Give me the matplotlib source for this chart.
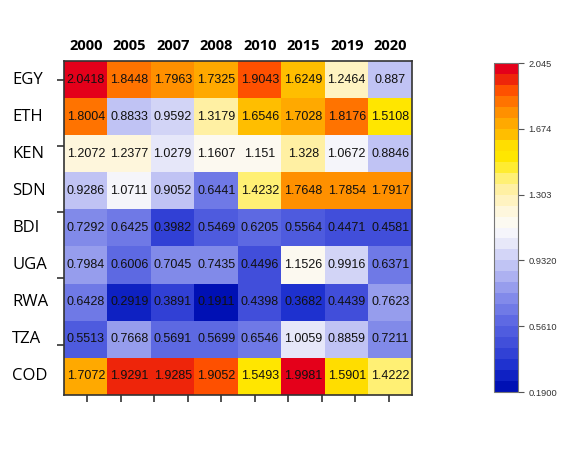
import numpy as np
import matplotlib
matplotlib.use("Agg")
import matplotlib.pyplot as plt
from matplotlib.colors import LinearSegmentedColormap, Normalize

# datos
years = ["2000", "2005", "2007", "2008", "2010", "2015", "2019", "2020"]
countries = ["EGY", "ETH", "KEN", "SDN", "BDI", "UGA", "RWA", "TZA", "COD"]

egy = [2.0418, 1.8448, 1.7963, 1.7325, 1.9043, 1.6249, 1.2464, 0.887]
eth = [1.8004, 0.8833, 0.9592, 1.3179, 1.6546, 1.7028, 1.8176, 1.5108]
ken = [1.2072, 1.2377, 1.0279, 1.1607, 1.151, 1.328, 1.0672, 0.8846]
sdn = [0.9286, 1.0711, 0.9052, 0.6441, 1.4232, 1.7648, 1.7854, 1.7917]
bdi = [0.7292, 0.6425, 0.3982, 0.5469, 0.6205, 0.5564, 0.4471, 0.4581]
uga = [0.7984, 0.6006, 0.7045, 0.7435, 0.4496, 1.1526, 0.9916, 0.6371]
rwa = [0.6428, 0.2919, 0.3891, 0.1911, 0.4398, 0.3682, 0.4439, 0.7623]
tza = [0.5513, 0.7668, 0.5691, 0.5699, 0.6546, 1.0059, 0.8859, 0.7211]
cod = [1.7072, 1.9291, 1.9285, 1.9052, 1.5493, 1.9981, 1.5901, 1.4222]

cbar_ticks = [0.1900, 0.5610, 0.9320, 1.303, 1.674, 2.045]
cbar_labels = ["0.1900", "0.5610", "0.9320", "1.303", "1.674", "2.045"]

vmin, vmax = 0.19, 2.045
datos = np.array([egy, eth, ken, sdn, bdi, uga, rwa, tza, cod])

# escala de colores azul - blanco - amarillo - rojo
anclas = [
    (0.00, "#0010b4"),
    (0.06, "#1a2ece"),
    (0.12, "#3a48d8"),
    (0.20, "#5a66e2"),
    (0.28, "#848cea"),
    (0.36, "#b6baf3"),
    (0.42, "#d6d8f7"),
    (0.46, "#eeeefa"),
    (0.50, "#fbfbfb"),
    (0.56, "#fff6d8"),
    (0.62, "#fff0a4"),
    (0.67, "#fff060"),
    (0.71, "#ffe800"),
    (0.755, "#ffe200"),
    (0.78, "#ffc600"),
    (0.84, "#ffa200"),
    (0.89, "#ff7a00"),
    (0.93, "#ff5200"),
    (0.96, "#f02c08"),
    (1.00, "#e4001a"),
]
cmap = LinearSegmentedColormap.from_list("byr", anclas, N=30)
norm = Normalize(vmin=vmin, vmax=vmax)

W, H = 577, 468
fig = plt.figure(figsize=(W / 100, H / 100), dpi=100)

ax = fig.add_axes([64 / W, 1 - 395 / H, 348 / W, 334 / H])
ax.imshow(datos, cmap=cmap, norm=norm, aspect="auto", interpolation="nearest")

for i in range(len(countries)):
    for j in range(len(years)):
        ax.text(j, i, f"{datos[i, j]:g}", ha="center", va="center",
                fontsize=9, family="Liberation Sans", color="#111111")

# marcas decorativas (como en R)
xfr = np.linspace(0.066, 0.934, 10)
yfr = 0.057 + 0.198 * np.arange(5)
ax.set_xticks(-0.5 + len(years) * xfr)
ax.set_yticks(-0.5 + len(countries) * yfr)
ax.set_xticklabels([])
ax.set_yticklabels([])
ax.tick_params(length=5, width=1.2, color="#333333")
for s in ax.spines.values():
    s.set_color("#333333")
    s.set_linewidth(1.2)

for j, y in enumerate(years):
    ax.text(j, -0.72, y, ha="center", va="bottom", fontsize=10.5,
            fontweight="bold", family="Open Sans")
for i, c in enumerate(countries):
    fig.text(12 / W, 1 - (61 + 37.1 * (i + 0.5)) / H, c, ha="left", va="center",
             fontsize=12, family="Open Sans")

# barra de colores
cax = fig.add_axes([494 / W, 1 - 392 / H, 24 / W, 329 / H])
sm = plt.cm.ScalarMappable(cmap=cmap, norm=norm)
cb = fig.colorbar(sm, cax=cax, ticks=cbar_ticks)
cb.ax.set_yticklabels(cbar_labels)
cb.ax.tick_params(labelsize=6.7, length=4, width=0.8, color="#555555",
                  labelcolor="#333333")
cb.outline.set_edgecolor("#777777")
cb.outline.set_linewidth(0.8)
for t in cb.ax.get_yticklabels():
    t.set_family("Liberation Sans")

fig.savefig("out.png", dpi=100, facecolor="white")
